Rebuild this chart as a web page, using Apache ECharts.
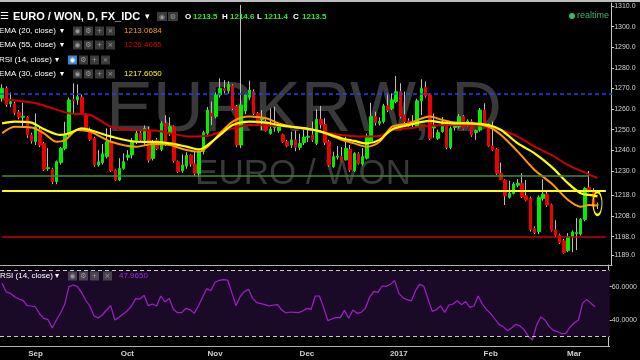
<!DOCTYPE html>
<html><head><meta charset="utf-8">
<script src="https://cdn.jsdelivr.net/npm/echarts@6/dist/echarts.min.js"></script>
<style>html,body{margin:0;padding:0;background:#000;}#c{width:640px;height:360px;}</style>
</head><body><div id="c"></div>
<script>
// ---------- DATA ----------
const startDate = '2016-08-22';
const barCount = 143;
const padBars = 3;
const opens = [1265.2,1270,1262.5,1262.5,1258.5,1256,1256,1247.4,1244.2,1250,1243.3,1231,1230.7,1224.7,1234,1240.9,1247.4,1264.5,1264.4,1265.7,1257,1249.8,1245.8,1232.8,1234,1236.9,1244.1,1230.4,1225.5,1231.2,1236.6,1237.7,1244.1,1248.2,1245,1249.8,1236,1244.9,1240.4,1253,1248.5,1251.4,1234.4,1230,1232.3,1237.5,1233.3,1228.8,1239.3,1248.2,1257.9,1256.4,1266.8,1270,1268.8,1271.2,1261.1,1242.5,1259,1265.7,1268.4,1257.9,1254.8,1253.8,1248.1,1251,1249.5,1247.5,1244.1,1242.5,1245,1241.4,1243.7,1246.3,1247.4,1243.3,1255,1252.5,1244.1,1232,1236.6,1236.9,1235.3,1240.4,1230.1,1238.2,1233.3,1236.1,1244.1,1256.3,1253,1253.9,1261.5,1260.3,1263.6,1268.4,1257.1,1254.2,1252.5,1251.4,1264,1270.5,1266.8,1250.8,1245.8,1249,1253,1241.4,1251,1251.4,1256.3,1252.2,1253.9,1248.5,1249.8,1259.5,1252.2,1242,1240.4,1228.8,1225.5,1217.1,1219,1223,1223.9,1217.8,1216.6,1202,1200.5,1216.6,1218.7,1213.4,1201.3,1198.8,1196,1191.2,1198,1199.5,1199.3,1206.4,1221.8,1219.9,1213.5];
const highs = [1272,1271,1268,1263.5,1259.5,1263,1256.5,1248.5,1257.9,1251.5,1244,1241,1231.5,1235,1241.5,1253.8,1265.5,1272.5,1272,1267,1258,1251,1246.5,1240,1243,1250.6,1250.8,1231,1236.1,1238.5,1240,1246,1250,1249.5,1252,1251.4,1245,1246,1254,1257,1256,1252,1235,1238,1239,1238,1239.3,1240,1249.5,1261,1263.6,1268,1274.9,1274,1273.5,1272,1262,1310.5,1267.5,1273.8,1269.5,1258.5,1259.5,1255,1260.3,1261.1,1253,1248,1245,1249,1249.5,1248,1250,1251,1253.9,1259.8,1261.5,1255.5,1245,1239.3,1242,1241.5,1246.6,1242.5,1239,1239,1241,1248,1263,1258.7,1256,1262.5,1267.6,1267.6,1276,1272.5,1268.4,1255.5,1257,1265,1274.4,1273.3,1267.5,1257.9,1250,1256.1,1254,1251.5,1253,1257.5,1257,1255,1255,1250,1260.5,1262.8,1253,1253.9,1241,1234,1226,1225.2,1224.5,1226,1228.8,1225.5,1217.5,1203,1218,1225.9,1220,1214,1206,1199.5,1197,1199.8,1201,1207,1207,1222,1229.9,1221.5,1214.6];
const lows = [1263.5,1261,1261,1257,1255,1250.8,1246,1243.2,1242.5,1241.5,1230,1230,1223.5,1223.5,1233,1240,1246,1258,1262,1257,1249,1244.5,1232,1232,1233,1236,1229.5,1225,1225,1230.5,1235,1236,1243,1244,1242,1234,1235,1240,1239.5,1242,1247,1234,1229,1229,1231,1232,1227.5,1227,1238,1247,1252.2,1255.5,1265.5,1267.5,1267.5,1259.5,1241.5,1241,1257.5,1264.5,1257,1252.5,1249.8,1249,1247.5,1249,1248.5,1243.5,1241.5,1241,1239.5,1240,1242.5,1244,1244,1242.5,1250.5,1242.5,1232,1231.5,1235.5,1234.5,1235,1229.5,1229.5,1233,1232.5,1235.5,1243.5,1252,1252,1253,1258.5,1259.5,1262.8,1255.5,1253,1251.5,1250.5,1250.8,1257,1265.5,1245,1246,1245,1248.5,1240.5,1240.5,1249.5,1250.5,1250,1251.5,1246.5,1245,1249,1252.5,1241.5,1239.5,1228,1225.5,1213.4,1216.5,1218.5,1222,1216.8,1215.2,1200.5,1199.3,1199.3,1215.5,1212.5,1200.5,1198,1194.5,1189.8,1190.5,1190.5,1191.5,1198.5,1205.5,1219.5,1211,1211.4];
const closes = [1270,1262.2,1263.5,1258.2,1256,1256.5,1247.4,1244.5,1251.4,1242.5,1230.7,1231.5,1224.7,1234.4,1240.9,1247.4,1264.4,1264,1266,1257.9,1250.1,1245.3,1232.8,1234.4,1238.2,1244.1,1230.1,1225.5,1231.2,1234.4,1237.5,1244.1,1248.2,1245,1250.6,1235.2,1244.1,1240.8,1253,1244.1,1251.4,1234.9,1229.6,1232.8,1237.5,1233.3,1228.8,1239.3,1248.5,1259.5,1256.6,1266.8,1270,1269,1272,1260.3,1242.5,1261.9,1266.8,1269.2,1257.9,1253,1255.6,1249.5,1250.3,1251.6,1251.4,1244.1,1242.1,1245,1241.4,1243.3,1246.3,1246.8,1245,1255,1252.5,1243.7,1232.8,1236.9,1237.2,1235,1240.9,1230.4,1238.5,1233.6,1236.9,1246.9,1256.3,1253.4,1253.9,1261.5,1259.5,1264.4,1268.4,1256.3,1253.9,1253,1252.8,1264,1270,1266.3,1245.8,1251.4,1248.5,1253,1241.4,1250.6,1251.8,1256.3,1250.6,1254.2,1247.4,1249.5,1259.5,1253,1242,1240.1,1228.8,1225.9,1217.8,1219,1223.6,1224,1217.4,1215.8,1201.6,1200,1217.1,1218.7,1213.4,1201,1198.8,1195.1,1190.3,1198,1200.3,1200,1206.4,1221.5,1220.7,1212.5,1213.5];
const ema20 = [[0,1248.2],[3,1251.4],[7,1251],[10,1248.2],[13,1244.1],[15,1244.9],[18,1249.8],[21,1249],[26,1244.1],[32,1241.7],[36,1243],[40,1242.5],[44,1240.1],[47,1239.3],[49,1241.7],[52,1248.2],[55,1253.9],[59,1256.3],[63,1255.5],[66,1253],[69,1251.4],[73,1250.2],[76,1249],[81,1245],[84,1243.3],[87,1241.7],[90,1244.1],[93,1251.4],[97,1253],[102,1256.3],[105,1254.7],[108,1253.4],[112,1253],[116,1251.4],[119,1247.4],[123,1239.3],[127,1230.4],[131,1223.9],[135,1215.8],[138,1212.6],[140,1213.4],[142,1213.1]];
const ema30 = [[0,1253],[3,1253.9],[7,1253.4],[10,1250.2],[14,1247.4],[16,1248.2],[19,1250.6],[21,1249.8],[26,1246.6],[32,1244.1],[36,1244],[40,1243.3],[44,1241.7],[47,1240.4],[49,1242.5],[52,1247.4],[55,1252.2],[59,1253.9],[63,1253.4],[66,1252.2],[69,1251.4],[73,1250.4],[76,1249],[81,1245.8],[84,1244.5],[87,1243.3],[90,1245],[93,1250.1],[97,1252.2],[102,1254.2],[105,1253.4],[108,1253],[112,1253],[116,1252.2],[119,1249.8],[123,1243.3],[127,1238.5],[131,1232],[135,1223.9],[138,1219.1],[140,1218.3],[142,1217.6]];
const ema55 = [[0,1264.7],[8,1262.8],[16,1257.9],[21,1257.1],[26,1251.4],[32,1249.8],[37,1249.5],[40,1248.2],[45,1246.6],[49,1247],[55,1250.6],[59,1252.2],[65,1251.8],[71,1251],[76,1249],[81,1247.4],[86,1246.6],[90,1246.9],[93,1249.8],[97,1250.6],[101,1251.7],[108,1252.2],[112,1252.2],[116,1251.4],[119,1249.8],[123,1246.6],[127,1241.7],[131,1237.7],[135,1232.8],[139,1229.1],[142,1226.5]];
const rsi = [62,56.8,56,54,52.6,51.8,48.6,48.4,47.8,43.6,41,40.2,35.2,40,44.2,49.4,60,61,60.2,56.6,52,48.4,42.6,41.2,43,46,48.6,40,41.6,43.6,45.6,48.4,52.8,52.6,54.8,48.6,49.6,48.4,54.4,50.8,53,46.4,44.4,44.4,47,46.2,44,48.4,53.6,58.8,57.6,62.6,63.8,64.2,64,56.6,48.6,54,57,58.4,53,50.4,49.8,49.2,48.4,49,49.2,45.8,44.2,44.8,44.6,44.4,45.4,47,46.4,54.4,54.4,47.4,39.6,40.6,41.6,41.4,45.8,41,46,44,44.6,47,53.6,57.2,56.6,60.4,60.2,61.4,63.6,56,53.4,52.2,51.4,57.6,61.4,60.2,52.6,45.2,46.2,48.4,44.6,49,49.6,51.6,49.2,51,47.6,48.4,54.4,49.6,46.2,43.8,40.6,37.4,36,33.6,35.2,37.4,36.4,34.2,30.2,28,37,41.8,40,36.2,33.8,33,31.8,32,35.8,38.2,40,50,52.4,50,48];
const priceTicks = [1310,1300,1290,1280,1270,1260,1250,1240,1230,1218,1208,1198,1189];
const rsiTicks = [40,60];
const monthTickIdx = [8,30,51,73,95,117,137];
const monthTickLabels = ['Sep','Oct','Nov','Dec','2017','Feb','Mar'];
const levelBlue = 1267.3, levelGreen = 1227.5, levelYellow = 1220.2, levelRed = 1198.2;
const lastPrice = 1213.5;
const ohlcLegend = ['1213.5','1214.6','1211.4','1213.5'];
const studyLabels = ['EMA (20, close)','EMA (55, close)','RSI (14, close)','EMA (30, close)'];
const studyValues = ['1213.0684','1226.4665','','1217.6050'];
const rsiLast = '47.9650';

// ---------- BUILD ----------
const cats = [];
{
  const d = new Date(startDate + 'T00:00:00Z');
  while (cats.length < barCount) {
    const wd = d.getUTCDay();
    if (wd !== 0 && wd !== 6) cats.push(d.toISOString().slice(0,10));
    d.setUTCDate(d.getUTCDate() + 1);
  }
  for (let k = 0; k < padBars; k++) cats.push('');
}
const wickData = opens.map((o,i)=>[o, closes[i], lows[i], highs[i]]);
const bodyData = opens.map((o,i)=>[o, closes[i], Math.min(o,closes[i]), Math.max(o,closes[i])]);

const FONT = 'Liberation Sans, Arial, sans-serif';
const GREEN = '#00ee00', RED = '#ee0000';
const barStep = 4.21;
const gridLeft = -2.5;
const gridWidth = barStep * (barCount + padBars);

function txt(id, x, y, text, fill, font, align, z) {
  return {type:'text', id, x, y, z: z||100, silent:true,
    style:{text, fill, font: font + ' ' + FONT, textAlign: align||'left', textVerticalAlign:'middle'}};
}
function box(id, x, y, w, h, fill, glyph, gfill) {
  return [
    {type:'rect', id:id+'b', z:100, silent:true, shape:{x, y: y - h/2, width:w, height:h}, style:{fill}},
    {type:'text', id:id+'g', z:101, silent:true, x: x + w/2, y: y + 0.5,
      style:{text: glyph, fill: gfill, font: '7px DejaVu Sans, sans-serif', textAlign:'center', textVerticalAlign:'middle'}}
  ];
}
const graphics = [];
graphics.push({type:'rect', id:'topline', z:100, silent:true, shape:{x:0,y:0,width:640,height:2}, style:{fill:'#bdbdbd'}});
graphics.push(txt('wm1', 304, 112, 'EURKRW, D', '#393939', '70px', 'center', -1));
graphics.push(txt('wm2', 303, 174, 'EURO / WON', '#393939', '35px', 'center', -1));
// header row
graphics.push(txt('ham', 0, 16.5, '☰', '#ffffff', '10px', 'left'));
graphics.push(txt('title', 13, 16.5, 'EURO / WON, D, FX_IDC', '#ffffff', 'bold 11px', 'left'));
graphics.push(txt('titlearr', 145, 16.5, '▾', '#ffffff', '9px', 'left'));
graphics.push(...box('h1', 157, 16.5, 10, 9, '#3a3a3a', '◉', '#9a9a9a'));
graphics.push(...box('h2', 168, 16.5, 10, 9, '#3a3a3a', '⚙', '#9a9a9a'));
const ohlcX = [[185,193],[222,230],[257,264],[293,302]];
['O','H','L','C'].forEach((k,i)=>{
  graphics.push(txt('ohlck'+i, ohlcX[i][0], 16.5, k, '#ffffff', 'bold 8px', 'left'));
  graphics.push(txt('ohlcv'+i, ohlcX[i][1], 16.5, ohlcLegend[i], '#2ee82e', 'bold 8px', 'left'));
});
graphics.push({type:'circle', id:'rtdot', z:100, silent:true, shape:{cx:572, cy:16, r:3}, style:{fill:'#3cb371'}});
graphics.push(txt('rt', 577, 16, 'realtime', '#3cb371', '9px', 'left'));
// study rows
const rowY = [31, 45, 60, 74];
const rowColors = ['#f0a000','#d40000','','#ffff00'];
const rowIconX = [[73,84,95,106],[73,84,95,106],[68,79,90,101],[73,84,95,106]];
studyLabels.forEach((lab,i)=>{
  const y = rowY[i];
  graphics.push(txt('sl'+i, -1, y, lab, '#ffffff', '8px', 'left'));
  graphics.push(txt('sa'+i, rowIconX[i][0]-13, y, '▾', '#ffffff', '8px', 'left'));
  const glyphs = ['◉','⚙','+','×'];
  rowIconX[i].forEach((ix,j)=>{
    const on = (i===2 && j===0);
    graphics.push(...box('si'+i+'_'+j, ix, y, 9, 9, on ? '#3d85c6' : '#3a3a3a', glyphs[j], on ? '#ffffff' : '#9a9a9a'));
  });
  if (studyValues[i]) graphics.push(txt('sv'+i, 124, y, studyValues[i], rowColors[i], '8px', 'left'));
});
// RSI pane legend
graphics.push(txt('rl', 0, 276, 'RSI (14, close)', '#ffffff', '8px', 'left'));
graphics.push(txt('ra', 55, 276, '▾', '#ffffff', '8px', 'left'));
[68,79,90,103].forEach((ix,j)=>{
  graphics.push(...box('ri'+j, ix, 276, 9, 9, '#4a4250', ['◉','⚙','+','×'][j], '#9a9a9a'));
});
graphics.push(txt('rv', 119, 276, rsiLast, '#9a2fd0', '8px', 'left'));

const option = {
  backgroundColor: '#000000',
  animation: false,
  textStyle: {fontFamily: FONT},
  graphic: graphics,
  grid: [
    {left: gridLeft, width: gridWidth, top: 3, height: 262},
    {left: gridLeft, width: gridWidth, top: 265, height: 81}
  ],
  xAxis: [
    {type:'category', gridIndex:0, data: cats, boundaryGap:true,
      axisLine:{show:true, lineStyle:{color:'#b0b0b0', width:1}}, axisTick:{show:false}, axisLabel:{show:false}, splitLine:{show:false}},
    {type:'category', gridIndex:1, data: cats, boundaryGap:true,
      axisLine:{show:true, lineStyle:{color:'#b0b0b0', width:1}}, axisTick:{show:false}, splitLine:{show:false},
      axisLabel:{show:true, color:'#d0d0d0', fontSize:8, fontWeight:'bold', margin:4,
        interval:(idx)=>monthTickIdx.indexOf(idx) >= 0,
        formatter:(v, idx)=>{ const k = monthTickIdx.indexOf(idx); return k>=0 ? monthTickLabels[k] : ''; }}}
  ],
  yAxis: [
    {type:'value', gridIndex:0, position:'right', offset:-1, min:1184.27, max:1311.46, scale:true,
      axisLine:{show:true, lineStyle:{color:'#c8c8c8'}},
      axisTick:{show:true, length:3, lineStyle:{color:'#c8c8c8'}, customValues: priceTicks},
      axisLabel:{show:true, color:'#d0d0d0', fontSize:7, margin:3, customValues: priceTicks, formatter:(v)=>v.toFixed(1)},
      splitLine:{show:false}},
    {type:'value', gridIndex:1, position:'right', offset:-1, min:24.4, max:73.0,
      axisLine:{show:true, lineStyle:{color:'#c8c8c8'}},
      axisTick:{show:true, length:3, lineStyle:{color:'#c8c8c8'}, customValues: rsiTicks},
      axisLabel:{show:true, color:'#d0d0d0', fontSize:7, margin:3, customValues: rsiTicks, formatter:(v)=>v.toFixed(4)},
      splitLine:{show:false}}
  ],
  series: [
    {name:'wick', type:'candlestick', xAxisIndex:0, yAxisIndex:0, z:2, barWidth:1, data: wickData,
      itemStyle:{color:'#bdbdbd', color0:'#bdbdbd', borderColor:'#bdbdbd', borderColor0:'#bdbdbd', borderWidth:1}},
    {name:'body', type:'candlestick', xAxisIndex:0, yAxisIndex:0, z:3, barWidth:3, data: bodyData,
      itemStyle:{color:GREEN, color0:RED, borderColor:GREEN, borderColor0:RED, borderWidth:1}},
    {name:'EMA55', type:'line', xAxisIndex:0, yAxisIndex:0, z:4, data: ema55, smooth:0.3, symbol:'none',
      lineStyle:{color:'#cc0000', width:2}},
    {name:'EMA20', type:'line', xAxisIndex:0, yAxisIndex:0, z:4, data: ema20, smooth:0.3, symbol:'none',
      lineStyle:{color:'#ff9900', width:2}},
    {name:'EMA30', type:'line', xAxisIndex:0, yAxisIndex:0, z:4, data: ema30, smooth:0.3, symbol:'none',
      lineStyle:{color:'#ffff00', width:2.2}},
    {name:'levels', type:'line', xAxisIndex:0, yAxisIndex:0, z:5, data: [],
      markLine:{silent:true, symbol:['none','none'], animation:false, label:{show:false},
        data:[
          {yAxis: levelBlue, lineStyle:{color:'#2440ff', type:[4,3], width:1.5}},
          [{coord:[0, levelGreen], lineStyle:{color:'#3f8f2f', width:1.5, type:'solid'}}, {coord:[140, levelGreen], lineStyle:{color:'#3f8f2f', width:1.5, type:'solid'}}],
          [{coord:[0, levelYellow], lineStyle:{color:'#ffff00', width:2, type:'solid'}}, {coord:[144, levelYellow], lineStyle:{color:'#ffff00', width:2, type:'solid'}}],
          [{coord:[0, levelRed], lineStyle:{color:'#cc0000', width:1.5, type:'solid'}}, {coord:[144, levelRed], lineStyle:{color:'#cc0000', width:1.5, type:'solid'}}],
          {yAxis: lastPrice, lineStyle:{width:0, opacity:0},
            label:{show:true, position:'end', distance:0, formatter: ()=>lastPrice.toFixed(1),
              backgroundColor:'#00d400', color:'#d8ffd8', fontSize:8, padding:[2,3,1,3], fontFamily: FONT}}
        ]},
      markPoint:{silent:true, symbol:'circle', symbolSize:[9,23], label:{show:false},
        itemStyle:{color:'rgba(0,0,0,0)', borderColor:'#ffff00', borderWidth:1.5},
        data:[{coord:[barCount-1, lastPrice + 0.6]}]}},
    {name:'rsiBand', type:'line', xAxisIndex:1, yAxisIndex:1, z:1, data: [],
      markArea:{silent:true, itemStyle:{color:'#1b0a27'}, data:[[{yAxis:30},{yAxis:70}]]},
      markLine:{silent:true, symbol:['none','none'], label:{show:false},
        lineStyle:{color:'#c8c8c8', type:[4,3], width:1},
        data:[{yAxis:70},{yAxis:30}]}},
    {name:'RSI', type:'line', xAxisIndex:1, yAxisIndex:1, z:3, data: rsi, symbol:'none',
      lineStyle:{color:'#a020c8', width:1.2}}
  ]
};
const chart = echarts.init(document.getElementById('c'), null, {renderer:'canvas'});
chart.setOption(option);
</script>
</body></html>
